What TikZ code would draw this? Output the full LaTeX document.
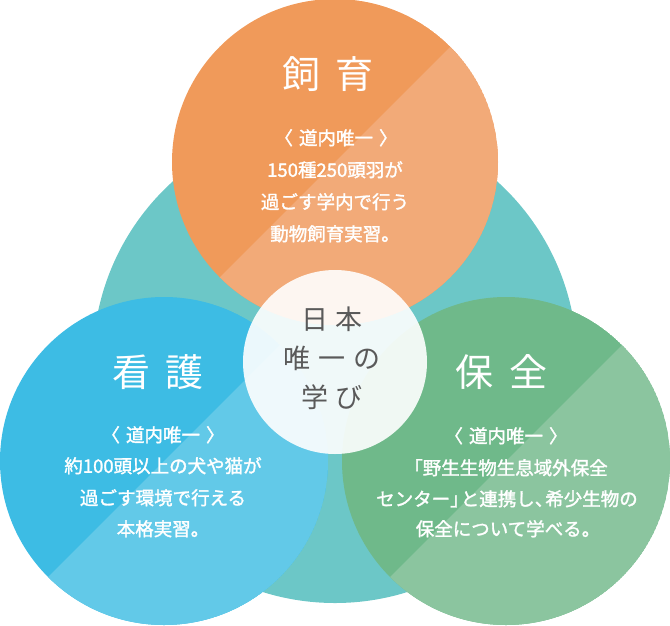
\documentclass[tikz,border=0pt]{standalone}
\usepackage{fontspec}
\newfontfamily\jpfont{Noto Sans CJK JP}
\newfontfamily\jpbody{Noto Sans CJK JP}[FakeBold=1.6]
\definecolor{tealc}{HTML}{6CC7C7}
\definecolor{orD}{HTML}{F09A5A}
\definecolor{orL}{HTML}{F2AA78}
\definecolor{blD}{HTML}{3DBCE4}
\definecolor{blL}{HTML}{62C9E8}
\definecolor{grD}{HTML}{6FB98A}
\definecolor{grL}{HTML}{8BC59F}
\definecolor{ctrtext}{HTML}{5A5A5A}
\tikzset{
  ttl/.style={text=white, inner sep=0pt, text height=0.88em, text depth=0.12em,
    font=\jpfont\fontsize{38}{40}\selectfont},
  bodytxt/.style={text=white, inner sep=0pt, text height=0.88em, text depth=0.12em,
    font=\jpbody\fontsize{18.5}{20}\selectfont},
  ctrtxt/.style={text=ctrtext, inner sep=0pt, text height=0.88em, text depth=0.12em,
    font=\jpfont\fontsize{27}{28}\selectfont}
}
\newcommand\tgap{\hspace{16pt}}
\newcommand\cgap{\hspace{8pt}}
\newcommand\brgap{\hspace{6pt}}
\newcommand\halfback{\hspace{-8pt}}
\begin{document}
\begin{tikzpicture}[x=1pt,y=-1pt]
\useasboundingbox (0,0) rectangle (670,625);
% big teal circle
\fill[tealc] (335,361) circle[radius=242pt];
% orange
\begin{scope}
  \clip (335,162) circle[radius=163pt];
  \fill[orD] (335,162) circle[radius=163pt];
  \fill[orL, shift={(335,162)}] (-250,250) -- (250,-250) -- (250,250) -- cycle;
\end{scope}
% blue
\begin{scope}
  \clip (164,461) circle[radius=164pt];
  \fill[blD] (164,461) circle[radius=164pt];
  \fill[blL, shift={(164,461)}] (-250,250) -- (250,-250) -- (250,250) -- cycle;
\end{scope}
% green
\begin{scope}
  \clip (506,461) circle[radius=164pt];
  \fill[grD] (506,461) circle[radius=164pt];
  \fill[grL, shift={(506,461)}] (-250,250) -- (250,-250) -- (250,250) -- cycle;
\end{scope}
% centre circle
\fill[white, opacity=0.9] (335,362) circle[radius=92pt];

% orange texts
\node[ttl] (oT) at (328,85) {飼\tgap 育};
\node[bodytxt] (o1) at (336,141) {〈\brgap 道内唯一\brgap 〉};
\node[bodytxt] (o2) at (335,173) {150種250頭羽が};
\node[bodytxt] (o3) at (335,205) {過ごす学内で行う};
\node[bodytxt] (o4) at (335,237) {動物飼育実習。};

% blue texts
\node[ttl] (bT) at (158,383) {看\tgap 護};
\node[bodytxt] (b1) at (163,438) {〈\brgap 道内唯一\brgap 〉};
\node[bodytxt] (b2) at (163,469) {約100頭以上の犬や猫が};
\node[bodytxt] (b3) at (163,501) {過ごす環境で行える};
\node[bodytxt] (b4) at (163,532) {本格実習。};

% green texts
\node[ttl] (gT) at (501,383) {保\tgap 全};
\node[bodytxt] (g1) at (506,439) {〈\brgap 道内唯一\brgap 〉};
\node[bodytxt] (g2) at (506,471) {「野生生物生息域外保全};
\node[bodytxt] (g3) at (507,502) {センター」\halfback と連携し、\halfback 希少生物の};
\node[bodytxt] (g4) at (508,532) {保全について学べる。};

% centre texts
\node[ctrtxt] (c1) at (332,326) {日\cgap 本};
\node[ctrtxt] (c2) at (332,365) {唯\cgap 一\cgap の};
\node[ctrtxt] (c3) at (332,404) {学\cgap び};
\end{tikzpicture}
\end{document}
